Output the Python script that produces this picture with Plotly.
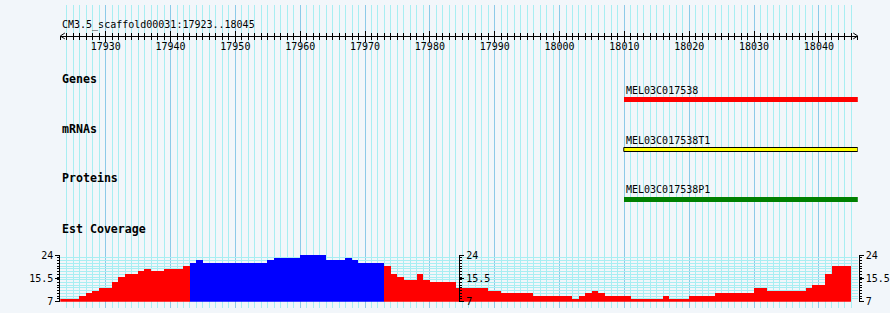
import plotly.graph_objects as go

# ---------------- data ----------------
view_start = 17923
view_end = 18045
ruler_title = "CM3.5_scaffold00031:17923..18045"
ruler_major = list(range(17930, 18041, 10))

track_names = ["Genes", "mRNAs", "Proteins", "Est Coverage"]
feature_names = ["MEL03C017538", "MEL03C017538T1", "MEL03C017538P1"]
feature_start = [18010, 18010, 18010]
feature_end = [18045, 18045, 18045]
feature_colors = ["#ff0000", "#ffff00", "#008000"]

coverage_start = 17923
coverage = [8, 8, 8, 9, 10, 11, 12, 12, 14, 16, 17, 17, 18, 19, 18, 18, 19, 19, 19, 20,
            21, 22, 21, 21, 21, 21, 21, 21, 21, 21, 21, 21, 22, 23, 23, 23, 23, 24, 24, 24,
            24, 22, 22, 22, 23, 22, 21, 21, 21, 21, 20, 17, 16, 15, 15, 17, 15, 14, 14, 14,
            14, 12, 12, 12, 12, 12, 11, 11, 10, 10, 10, 10, 10, 9, 9, 9, 9, 9, 9, 8,
            9, 10, 11, 10, 9, 9, 9, 9, 8, 8, 8, 8, 8, 9, 8, 8, 8, 9, 9, 9,
            9, 10, 10, 10, 10, 10, 10, 12, 12, 11, 11, 11, 11, 11, 11, 12, 13, 13, 17, 20,
            20, 20]
cov_min, cov_max = 7, 24
cov_ticks = [7, 15.5, 24]
cov_ticktext = ["7", "15.5", "24"]
pivot = 20

# ---------------- layout constants (pixels) ----------------
W, H = 890, 313
BG = "#f2f6fa"
MINOR = "#a8eef2"
MAJOR = "#8ccae8"
PX_LEFT, PX_RIGHT = 60.5, 860.7
RULER_Y = 32
COV_TOP, COV_BOT = 258.3, 306.5
MID_AXIS_PX = 460.7
RIGHT_AXIS_PX = 861.7
MONO = "DejaVu Sans Mono"

title_y = 20.5
track_label_y = [76, 128, 178.5, 231]
feature_label_y = [88.5, 140.3, 191]
feature_bar_y = [97.7, 149.5, 201]
feature_bar_h = [6, 4, 6]
feature_line_w = [0, 1, 0]

x0, x1 = view_start, view_end + 1

fig = go.Figure()

# coverage bars
cov_x = [coverage_start + i + 0.5 for i in range(len(coverage))]
cov_col = ["#0000ff" if v > pivot else "#ff0000" for v in coverage]
fig.add_trace(go.Bar(x=cov_x, y=coverage, width=1, marker=dict(color=cov_col, line=dict(width=0)),
                     xaxis="x", yaxis="y2", showlegend=False, hoverinfo="skip"))

# feature bars (genes, mRNAs, proteins)
for i in range(len(feature_names)):
    fig.add_trace(go.Bar(
        x=[feature_end[i] + 1 - feature_start[i]], base=[feature_start[i]], y=[feature_bar_y[i]],
        orientation="h", width=[feature_bar_h[i]],
        marker=dict(color=feature_colors[i], line=dict(color="black", width=feature_line_w[i])),
        xaxis="x", yaxis="y", showlegend=False, hoverinfo="skip"))

# ruler arrow heads
ah = 0.7
fig.add_trace(go.Scatter(x=[x0 + ah, x0, x0 + ah], y=[RULER_Y - 3, RULER_Y, RULER_Y + 3], mode="lines",
                         line=dict(color="black", width=1), xaxis="x", yaxis="y", showlegend=False, hoverinfo="skip"))
fig.add_trace(go.Scatter(x=[x1 - ah, x1, x1 - ah], y=[RULER_Y - 3, RULER_Y, RULER_Y + 3], mode="lines",
                         line=dict(color="black", width=1), xaxis="x", yaxis="y", showlegend=False, hoverinfo="skip"))

# dummy traces for overlay axes
for ax in ["y3", "y4", "y5"]:
    fig.add_trace(go.Scatter(x=[None], y=[None], xaxis="x", yaxis=ax, showlegend=False, hoverinfo="skip"))
fig.add_trace(go.Scatter(x=[None], y=[None], xaxis="x2", yaxis="y", showlegend=False, hoverinfo="skip"))

annotations = [dict(x=x0, y=title_y, xref="x", yref="y", text=ruler_title, showarrow=False,
                    xanchor="left", yanchor="middle", font=dict(family=MONO, size=10, color="black"))]
for name, yy in zip(track_names, track_label_y):
    annotations.append(dict(x=x0, y=yy, xref="x", yref="y", text="<b>%s</b>" % name, showarrow=False,
                            xanchor="left", yanchor="middle", font=dict(family=MONO, size=11.6, color="black")))
for i, name in enumerate(feature_names):
    annotations.append(dict(x=feature_start[i], y=feature_label_y[i], xref="x", yref="y", text=name,
                            showarrow=False, xanchor="left", yanchor="middle",
                            font=dict(family=MONO, size=10, color="black")))

dom = [PX_LEFT / W, PX_RIGHT / W]
ruler_pos = 1 - RULER_Y / H
cov_dom = [1 - COV_BOT / H, 1 - COV_TOP / H]
tickfont = dict(family=MONO, size=10, color="black")

fig.update_layout(
    width=W, height=H, autosize=False,
    margin=dict(l=0, r=0, t=0, b=0, pad=0),
    paper_bgcolor=BG, plot_bgcolor=BG,
    bargap=0, barmode="overlay",
    annotations=annotations,
    xaxis=dict(domain=dom, range=[x0, x1], anchor="free", position=ruler_pos, side="bottom",
               showline=True, linecolor="black", linewidth=1,
               tickmode="linear", tick0=ruler_major[0], dtick=10, tickformat="d",
               ticks="outside", ticklen=5, tickcolor="black", tickwidth=1,
               showticklabels=True, tickfont=tickfont, ticklabelstandoff=-4,
               showgrid=True, gridcolor=MAJOR, gridwidth=1, zeroline=False,
               minor=dict(dtick=1, tick0=view_start, ticks="outside", ticklen=3, tickcolor="black",
                          showgrid=True, gridcolor=MINOR, gridwidth=1),
               fixedrange=True),
    xaxis2=dict(domain=dom, range=[x0, x1], overlaying="x", anchor="free", position=ruler_pos, side="bottom",
                showline=False, tickmode="linear", tick0=ruler_major[0], dtick=10,
                ticks="inside", ticklen=5, tickcolor="black", showticklabels=False, showgrid=False,
                zeroline=False,
                minor=dict(dtick=1, tick0=view_start, ticks="inside", ticklen=3, tickcolor="black", showgrid=False)),
    yaxis=dict(domain=[0, 1], range=[H, 0], visible=False, fixedrange=True),
    yaxis2=dict(domain=cov_dom, range=[cov_min, cov_max], anchor="x", side="left",
                showline=True, linecolor="black", linewidth=1,
                tickmode="linear", tick0=cov_min, dtick=1, ticks="outside", ticklen=2, tickcolor="black",
                showticklabels=False, showgrid=True, gridcolor=MINOR, gridwidth=1, zeroline=False),
    yaxis3=dict(range=[cov_min, cov_max], overlaying="y2", anchor="x", side="left",
                showline=False, tickmode="array", tickvals=cov_ticks, ticktext=cov_ticktext,
                ticks="outside", ticklen=4, tickcolor="black", tickfont=tickfont,
                showgrid=False, zeroline=False),
    yaxis4=dict(range=[cov_min, cov_max], overlaying="y2", anchor="free", position=MID_AXIS_PX / W, side="right",
                showline=True, linecolor="black", linewidth=1,
                tickmode="array", tickvals=cov_ticks, ticktext=cov_ticktext,
                ticks="outside", ticklen=4, tickcolor="black", tickfont=tickfont,
                showgrid=False, zeroline=False,
                minor=dict(tickmode="linear", tick0=cov_min, dtick=1, ticks="outside", ticklen=2, tickcolor="black")),
    yaxis5=dict(range=[cov_min, cov_max], overlaying="y2", anchor="free", position=RIGHT_AXIS_PX / W, side="right",
                showline=True, linecolor="black", linewidth=1,
                tickmode="array", tickvals=cov_ticks, ticktext=cov_ticktext,
                ticks="outside", ticklen=4, tickcolor="black", tickfont=tickfont,
                showgrid=False, zeroline=False,
                minor=dict(tickmode="linear", tick0=cov_min, dtick=1, ticks="outside", ticklen=2, tickcolor="black")),
)

fig.write_html("out.html")
